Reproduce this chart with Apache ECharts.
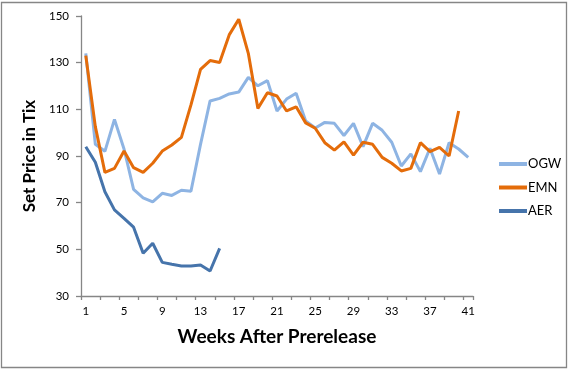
<!DOCTYPE html>
<html>
<head>
<meta charset="utf-8">
<script src="https://cdn.jsdelivr.net/npm/echarts@6/dist/echarts.min.js"></script>
<style>
html,body{margin:0;padding:0;background:#fff;}
#chart{width:569px;height:371px;}
</style>
</head>
<body>
<div id="chart"></div>
<script>
var weeks = [];
for (var w = 1; w <= 41; w++) weeks.push(String(w));

var ogw = [134, 95, 92, 105.7, 93, 75.7, 72.1, 70.3, 74, 73.1, 75.3, 74.9, 95, 113.6, 114.7, 116.6, 117.4, 123.7, 120.1, 122.3, 109.3, 114.4, 116.9, 105, 102, 104.4, 104, 98.8, 104, 94, 104, 101, 95.9, 85.7, 90.9, 83.3, 93.3, 82.3, 95.7, 93, 89.4];
var emn = [133, 102.6, 83, 84.7, 92.1, 85, 83, 86.9, 92.1, 94.7, 98, 111.9, 127.1, 130.9, 130.1, 141.9, 148.6, 134, 110.4, 117.1, 115.7, 109.3, 111.1, 104.2, 101.9, 95.7, 92.5, 96.1, 90.4, 95.9, 95, 89.4, 86.9, 83.6, 84.7, 95.7, 91.9, 93.7, 90, 109.3, null];
var aer = [94, 87.3, 74.7, 66.9, 63.3, 59.5, 48.3, 52.6, 44.4, 43.6, 42.9, 42.9, 43.3, 40.7, 50.4];

var font = 'Lato, "Open Sans", sans-serif';
var axisGray = '#868686';

var chart = echarts.init(document.getElementById('chart'), null, {renderer: 'canvas'});
chart.setOption({
  animation: false,
  backgroundColor: '#fff',
  grid: {left: 81, right: 96, top: 16, bottom: 75, containLabel: false},
  graphic: [{
    type: 'rect', silent: true,
    shape: {x: 1.5, y: 2.5, width: 565, height: 365},
    style: {fill: 'none', stroke: axisGray, lineWidth: 1.3}
  }],
  legend: {
    orient: 'vertical', left: 494, top: 152,
    itemWidth: 28, itemHeight: 4, itemGap: 9.5, icon: 'rect',
    textStyle: {fontFamily: font, fontSize: 13, color: '#000', padding: [0, 0, 0, -4], lineHeight: 14},
    data: ['OGW', 'EMN', 'AER']
  },
  xAxis: {
    type: 'category', data: weeks, boundaryGap: true,
    name: 'Weeks After Prerelease', nameLocation: 'middle', nameGap: 31,
    nameTextStyle: {fontFamily: font, fontSize: 19, fontWeight: 'bold', color: '#000', verticalAlign: 'top'},
    axisLine: {lineStyle: {color: axisGray, width: 1.3}},
    axisTick: {show: true, interval: 1, length: 4, lineStyle: {color: axisGray, width: 1.3}},
    axisLabel: {interval: 3, margin: 9, fontFamily: font, fontSize: 11.5, color: '#000'},
    splitLine: {show: false}
  },
  yAxis: {
    type: 'value', min: 30, max: 150, interval: 20,
    name: 'Set Price in Tix', nameLocation: 'middle', nameGap: 40, nameRotate: 90,
    nameTextStyle: {fontFamily: font, fontSize: 17, fontWeight: 'bold', color: '#000'},
    axisLine: {show: true, lineStyle: {color: axisGray, width: 1.3}},
    axisTick: {show: true, length: 5, lineStyle: {color: axisGray, width: 1.3}},
    axisLabel: {margin: 12, fontFamily: font, fontSize: 11.5, color: '#000'},
    splitLine: {show: false}
  },
  series: [
    {name: 'OGW', type: 'line', data: ogw, symbol: 'none', color: '#8EB4E3', lineStyle: {width: 3, color: '#8EB4E3'}, z: 2},
    {name: 'EMN', type: 'line', data: emn, symbol: 'none', color: '#E46C0A', lineStyle: {width: 3, color: '#E46C0A'}, z: 3},
    {name: 'AER', type: 'line', data: aer, symbol: 'none', color: '#4674AB', lineStyle: {width: 3, color: '#4674AB'}, z: 4}
  ]
});
</script>
</body>
</html>
